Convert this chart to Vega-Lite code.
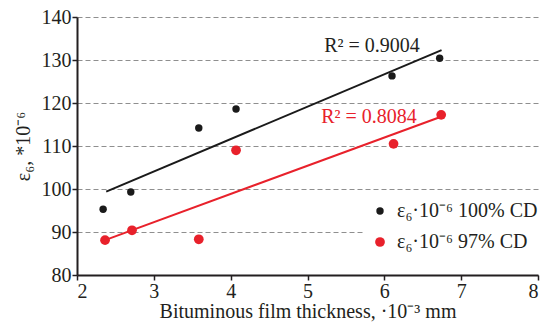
{
  "$schema": "https://vega.github.io/schema/vega-lite/v6.json",
  "width": 461,
  "height": 258,
  "autosize": {"type": "none"},
  "padding": {"left": 77, "top": 17, "right": 5, "bottom": 52},
  "background": "white",
  "config": {
    "view": {"stroke": null},
    "font": "Liberation Serif",
    "axis": {
      "labelFont": "Liberation Serif",
      "titleFont": "Liberation Serif",
      "labelFontSize": 20,
      "titleFontSize": 20,
      "titleFontWeight": "normal",
      "labelColor": "#231f20",
      "titleColor": "#231f20",
      "domainColor": "#231f20",
      "domainWidth": 2,
      "tickColor": "#231f20",
      "tickWidth": 1.5,
      "tickSize": 5
    },
    "legend": {
      "labelFont": "Liberation Serif",
      "labelFontSize": 20,
      "labelColor": "#231f20"
    }
  },
  "datasets": {
    "points": [
      {"x": 2.34, "y": 95.3, "series": "ε₆·10⁻⁶ 100% CD"},
      {"x": 2.70, "y": 99.3, "series": "ε₆·10⁻⁶ 100% CD"},
      {"x": 3.585, "y": 114.2, "series": "ε₆·10⁻⁶ 100% CD"},
      {"x": 4.07, "y": 118.6, "series": "ε₆·10⁻⁶ 100% CD"},
      {"x": 6.10, "y": 126.3, "series": "ε₆·10⁻⁶ 100% CD"},
      {"x": 6.72, "y": 130.4, "series": "ε₆·10⁻⁶ 100% CD"},
      {"x": 2.365, "y": 88.1, "series": "ε₆·10⁻⁶ 97% CD"},
      {"x": 2.716, "y": 90.4, "series": "ε₆·10⁻⁶ 97% CD"},
      {"x": 3.585, "y": 88.3, "series": "ε₆·10⁻⁶ 97% CD"},
      {"x": 4.07, "y": 109.0, "series": "ε₆·10⁻⁶ 97% CD"},
      {"x": 6.12, "y": 110.5, "series": "ε₆·10⁻⁶ 97% CD"},
      {"x": 6.74, "y": 117.25, "series": "ε₆·10⁻⁶ 97% CD"}
    ],
    "trend": [
      {"x": 2.38, "y": 99.4, "series": "100"},
      {"x": 6.745, "y": 132.3, "series": "100"},
      {"x": 2.365, "y": 88.1, "series": "97"},
      {"x": 6.72, "y": 116.7, "series": "97"}
    ],
    "labels": [
      {"x": 5.84, "y": 133.3, "series": "100", "text": "R² = 0.9004"},
      {"x": 5.80, "y": 116.8, "series": "97", "text": "R² = 0.8084"}
    ]
  },
  "layer": [
    {
      "data": {"name": "trend"},
      "transform": [{"filter": "datum.series === '100'"}],
      "mark": {"type": "line", "color": "#1a1a1a", "strokeWidth": 2},
      "encoding": {
        "x": {"field": "x", "type": "quantitative", "scale": {"domain": [2, 8]},
          "axis": {"values": [2, 3, 4, 5, 6, 7, 8], "format": "d", "title": "Bituminous film thickness, ·10⁻³ mm", "grid": false, "labelPadding": 1, "titlePadding": 0}},
        "y": {"field": "y", "type": "quantitative", "scale": {"domain": [80, 140]},
          "axis": {"values": [80, 90, 100, 110, 120, 130, 140], "format": "d", "title": "ε₆, *10⁻⁶", "grid": true, "gridColor": "#8f8f8f", "gridDash": [5, 3], "gridWidth": 1.2, "labelPadding": 1, "titlePadding": 8}}
      }
    },
    {
      "data": {"name": "trend"},
      "transform": [{"filter": "datum.series === '97'"}],
      "mark": {"type": "line", "color": "#e8212b", "strokeWidth": 2},
      "encoding": {
        "x": {"field": "x", "type": "quantitative"},
        "y": {"field": "y", "type": "quantitative"}
      }
    },
    {
      "data": {"name": "labels"},
      "transform": [{"filter": "datum.series === '100'"}],
      "mark": {"type": "text", "color": "#231f20", "fontSize": 20, "font": "Liberation Serif"},
      "encoding": {
        "x": {"field": "x", "type": "quantitative"},
        "y": {"field": "y", "type": "quantitative"},
        "text": {"field": "text"}
      }
    },
    {
      "data": {"name": "labels"},
      "transform": [{"filter": "datum.series === '97'"}],
      "mark": {"type": "text", "color": "#e8212b", "fontSize": 20, "font": "Liberation Serif"},
      "encoding": {
        "x": {"field": "x", "type": "quantitative"},
        "y": {"field": "y", "type": "quantitative"},
        "text": {"field": "text"}
      }
    },
    {
      "data": {"name": "points"},
      "mark": {"type": "circle", "opacity": 1},
      "encoding": {
        "x": {"field": "x", "type": "quantitative"},
        "y": {"field": "y", "type": "quantitative"},
        "color": {"field": "series", "type": "ordinal",
          "scale": {"domain": ["ε₆·10⁻⁶ 100% CD", "ε₆·10⁻⁶ 97% CD"], "range": ["#1a1a1a", "#e8212b"]},
          "legend": {"title": null, "orient": "none", "legendX": 287, "legendY": 178, "fillColor": "white", "padding": 6, "rowPadding": 11, "labelOffset": 7}},
        "size": {"field": "series", "type": "ordinal",
          "scale": {"domain": ["ε₆·10⁻⁶ 100% CD", "ε₆·10⁻⁶ 97% CD"], "range": [55, 95]},
          "legend": {"title": null, "orient": "none", "legendX": 287, "legendY": 178, "fillColor": "white", "padding": 6, "rowPadding": 11, "labelOffset": 7}}
      }
    }
  ]
}
